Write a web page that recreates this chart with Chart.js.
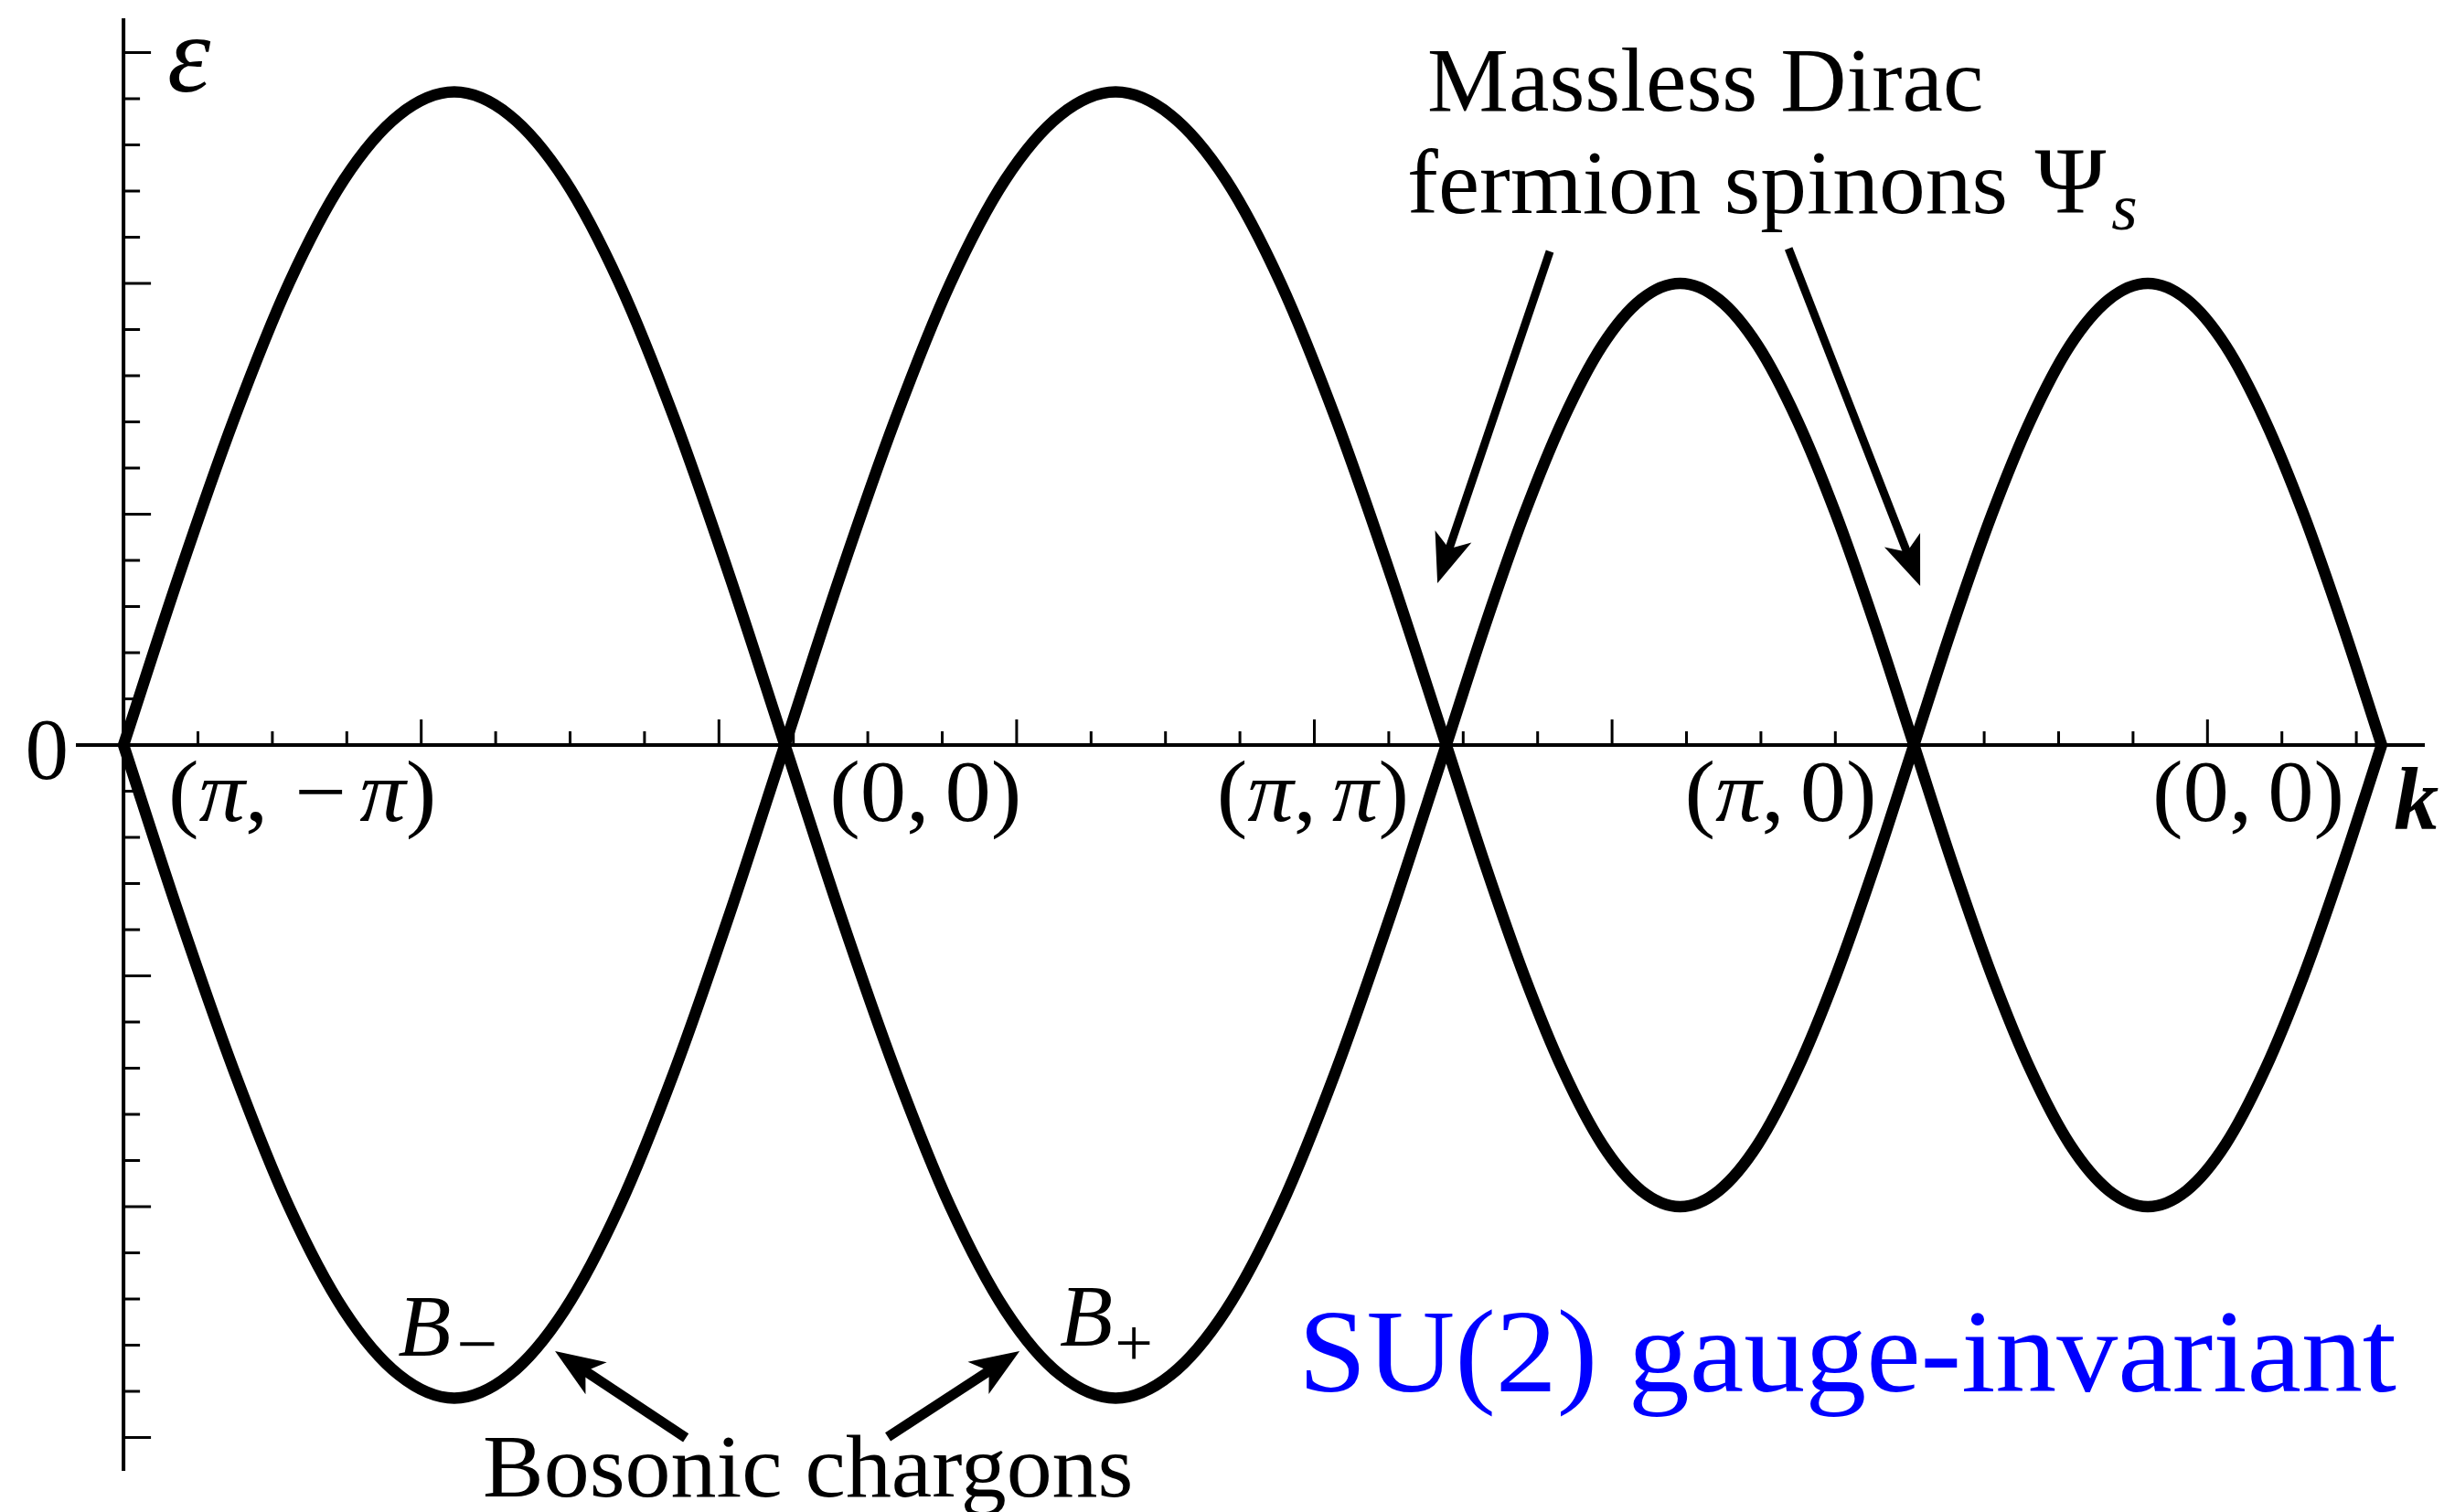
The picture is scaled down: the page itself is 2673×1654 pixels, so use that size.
<!DOCTYPE html>
<html>
<head>
<meta charset="utf-8">
<title>SU(2) gauge-invariant band structure</title>
<script src="https://cdn.jsdelivr.net/npm/chart.js@4.4.0/dist/chart.umd.min.js"></script>
<style>
    html, body { margin: 0; padding: 0; background: #fff; }
    #wrap { width: 2673px; height: 1654px; }
</style>
</head>
<body>
<div id="wrap"><canvas id="bands" width="2673" height="1654"></canvas></div>
<script>
// Path (π,−π) → (0,0) → (π,π) → (π,0) → (0,0); k = distance along the path
const kNodes = [0, 4.443, 8.886, 12.028, 15.170];
const kNodeLabels = ['(π, −π)', '(0, 0)', '(π, π)', '(π, 0)', '(0, 0)'];

// sample positions along each leg of the path
const kSegments = [
    [0, 0.370, 0.741, 1.111, 1.481, 1.851, 2.222, 2.592, 2.962, 3.332, 3.703, 4.073, 4.443],
    [4.443, 4.813, 5.184, 5.554, 5.924, 6.294, 6.665, 7.035, 7.405, 7.775, 8.146, 8.516, 8.886],
    [8.886, 9.148, 9.410, 9.671, 9.933, 10.195, 10.457, 10.719, 10.980, 11.242, 11.504, 11.766, 12.028],
    [12.028, 12.290, 12.552, 12.813, 13.075, 13.337, 13.599, 13.861, 14.122, 14.384, 14.646, 14.908, 15.170]
];

// energies of the two bands on each leg
const upperBand = [
    [0, 0.73, 1.41, 2.00, 2.45, 2.73, 2.83, 2.73, 2.45, 2.00, 1.41, 0.73, 0],
    [0, 0.73, 1.41, 2.00, 2.45, 2.73, 2.83, 2.73, 2.45, 2.00, 1.41, 0.73, 0],
    [0, 0.52, 1.00, 1.41, 1.73, 1.93, 2.00, 1.93, 1.73, 1.41, 1.00, 0.52, 0],
    [0, 0.52, 1.00, 1.41, 1.73, 1.93, 2.00, 1.93, 1.73, 1.41, 1.00, 0.52, 0]
];
const lowerBand = [
    [0, -0.73, -1.41, -2.00, -2.45, -2.73, -2.83, -2.73, -2.45, -2.00, -1.41, -0.73, 0],
    [0, -0.73, -1.41, -2.00, -2.45, -2.73, -2.83, -2.73, -2.45, -2.00, -1.41, -0.73, 0],
    [0, -0.52, -1.00, -1.41, -1.73, -1.93, -2.00, -1.93, -1.73, -1.41, -1.00, -0.52, 0],
    [0, -0.52, -1.00, -1.41, -1.73, -1.93, -2.00, -1.93, -1.73, -1.41, -1.00, -0.52, 0]
];

const FONT = '"Liberation Serif", "Times New Roman", serif';
const K_MIN = -0.32, K_MAX = 15.46;
const E_MIN = -3.145, E_MAX = 3.149;

/**
 * One dataset per band, with a gap at every node so each leg keeps its cusp
 */
function bandPoints(band) {
    const pts = [];
    kSegments.forEach((ks, s) => {
        ks.forEach((k, i) => pts.push({ x: k, y: band[s][i] }));
        pts.push({ x: ks[ks.length - 1], y: null });
    });
    return pts;
}

/**
 * Text helper: draws a sequence of runs (font / offset) from one anchor
 */
function drawRuns(ctx, runs, x, y, align, stretch) {
    let total = 0;
    runs.forEach(r => {
        ctx.font = r.font;
        r.w = (r.text ? ctx.measureText(r.text).width : 0) + (r.gap || 0);
        total += r.w;
    });
    const sx = stretch || 1;
    let left = x;
    if (align === 'right') left = x - total * sx;
    if (align === 'center') left = x - total * sx / 2;
    ctx.save();
    ctx.translate(left, y);
    ctx.scale(sx, 1);
    let cx = 0;
    runs.forEach(r => {
        ctx.font = r.font;
        if (r.text) ctx.fillText(r.text, cx, r.dy || 0);
        cx += r.w;
    });
    ctx.restore();
}

// math-mode label: letters italic, digits and punctuation upright
function mathRuns(label, size) {
    const runs = [];
    Array.from(label).forEach(ch => {
        const upright = `${size}px ${FONT}`;
        if (ch === ' ') {
            runs.push({ text: '', gap: size * 0.17, font: upright });
        } else if (ch === '−') {
            // the math minus sits a little wider than the text one
            runs.push({ text: '', gap: size * 0.12, font: upright });
            runs.push({ text: ch, gap: size * 0.14, font: upright });
        } else if (/[A-Za-zπ]/.test(ch)) {
            runs.push({ text: ch, font: `italic ${size}px ${FONT}` });
        } else {
            runs.push({ text: ch, font: upright });
        }
    });
    return runs;
}

function drawArrow(ctx, x0, y0, x1, y1, width) {
    const dx = x1 - x0, dy = y1 - y0;
    const len = Math.hypot(dx, dy);
    const ux = dx / len, uy = dy / len;
    const nx = -uy, ny = ux;
    const L = 54, W = 21;
    ctx.save();
    ctx.strokeStyle = '#000';
    ctx.fillStyle = '#000';
    ctx.lineWidth = width;
    ctx.lineCap = 'butt';
    ctx.beginPath();
    ctx.moveTo(x0, y0);
    ctx.lineTo(x1 - ux * L * 0.6, y1 - uy * L * 0.6);
    ctx.stroke();
    ctx.beginPath();
    ctx.moveTo(x1, y1);
    ctx.lineTo(x1 - ux * L + nx * W, y1 - uy * L + ny * W);
    ctx.lineTo(x1 - ux * L * 0.74, y1 - uy * L * 0.74);
    ctx.lineTo(x1 - ux * L - nx * W, y1 - uy * L - ny * W);
    ctx.closePath();
    ctx.fill();
    ctx.restore();
}

/**
 * Axes through the origin with inward ticks, plus the annotations
 */
const originAxes = {
    id: 'originAxes',
    beforeDatasetsDraw(chart) {
        const { ctx, chartArea, scales } = chart;
        const xs = scales.x, ys = scales.y;
        const x0 = xs.getPixelForValue(0), y0 = ys.getPixelForValue(0);
        ctx.save();
        ctx.strokeStyle = '#000';
        ctx.lineCap = 'butt';

        ctx.lineWidth = 4;
        ctx.beginPath();
        ctx.moveTo(chartArea.left, y0);
        ctx.lineTo(chartArea.right, y0);
        ctx.moveTo(x0, chartArea.top);
        ctx.lineTo(x0, chartArea.bottom);
        ctx.stroke();

        ctx.lineWidth = 3;
        ctx.beginPath();
        // k ticks every 0.5, long ones every 2
        for (let i = 1; i <= 30; i++) {
            const px = xs.getPixelForValue(i * 0.5);
            ctx.moveTo(px, y0);
            ctx.lineTo(px, y0 - (i % 4 === 0 ? 28 : 15));
        }
        // energy ticks every 0.2, long ones every 1
        for (let i = -15; i <= 15; i++) {
            if (i === 0) continue;
            const py = ys.getPixelForValue(i / 5);
            ctx.moveTo(x0, py);
            ctx.lineTo(x0 + (i % 5 === 0 ? 30 : 18), py);
        }
        ctx.stroke();
        ctx.restore();
    },
    afterDatasetsDraw(chart) {
        const { ctx, scales } = chart;
        const X = k => scales.x.getPixelForValue(k);
        const Y = e => scales.y.getPixelForValue(e);
        ctx.save();
        ctx.fillStyle = '#000';
        ctx.textBaseline = 'alphabetic';

        // axis names
        drawRuns(ctx, [{ text: 'ε', font: `italic 120px ${FONT}` }], X(0.295), Y(2.832), 'left');
        drawRuns(ctx, [{ text: '0', font: `95px ${FONT}` }], X(-0.369), Y(-0.147), 'right');
        drawRuns(ctx, [{ text: 'k', font: `bold italic 98px ${FONT}` }], X(15.252), Y(-0.364), 'left');

        // high-symmetry points under the axis
        const anchors = [
            [kNodes[0] + 0.30, 'left'],
            [kNodes[1] + 0.30, 'left'],
            [kNodes[2] - 0.25, 'right'],
            [kNodes[3] - 0.25, 'right'],
            [kNodes[4] - 0.25, 'right']
        ];
        kNodeLabels.forEach((lab, i) => {
            drawRuns(ctx, mathRuns(lab, 95), X(anchors[i][0]), Y(-0.329), anchors[i][1], 1.06);
        });

        // spinon annotation
        drawRuns(ctx, [{ text: 'Massless Dirac', font: `100px ${FONT}` }], X(10.627), Y(2.749), 'center');
        drawRuns(ctx, [
            { text: 'fermion spinons ', font: `100px ${FONT}`, gap: 4 },
            { text: 'Ψ', font: `104px ${FONT}`, gap: 6 },
            { text: 's', font: `italic 72px ${FONT}`, dy: 18 }
        ], X(8.624), Y(2.305), 'left', 1.015);
        drawArrow(ctx, X(9.582), Y(2.139), X(8.827), Y(0.701), 9);
        drawArrow(ctx, X(11.186), Y(2.151), X(12.070), Y(0.689), 9);

        // chargon annotation
        drawRuns(ctx, [
            { text: 'B', font: `italic 95px ${FONT}`, gap: 6 },
            { text: '−', font: `80px ${FONT}`, dy: 14 }
        ], X(1.843), Y(-2.646), 'left');
        drawRuns(ctx, [
            { text: 'B', font: `italic 95px ${FONT}`, gap: 2 },
            { text: '+', font: `74px ${FONT}`, dy: 22 }
        ], X(6.290), Y(-2.602), 'left');
        drawRuns(ctx, [{ text: 'Bosonic chargons', font: `97px ${FONT}` }], X(2.414), Y(-3.255), 'left', 1.03);
        drawArrow(ctx, X(3.778), Y(-3.002), X(2.899), Y(-2.626), 11);
        drawArrow(ctx, X(5.135), Y(-2.998), X(6.020), Y(-2.626), 11);

        ctx.fillStyle = '#0000ff';
        drawRuns(ctx, [{ text: 'SU(2) gauge-invariant', font: `130px ${FONT}` }], X(7.893), Y(-2.800), 'left', 1.03);
        ctx.restore();
    }
};

new Chart(document.getElementById('bands'), {
    type: 'line',
    data: {
        datasets: [
            { label: 'upper', data: bandPoints(upperBand) },
            { label: 'lower', data: bandPoints(lowerBand) }
        ]
    },
    options: {
        responsive: false,
        devicePixelRatio: 1,
        animation: false,
        spanGaps: false,
        layout: { padding: { left: 83, right: 21, top: 20, bottom: 45 } },
        elements: {
            point: { radius: 0 },
            line: {
                borderColor: '#000',
                borderWidth: 12.5,
                borderCapStyle: 'butt',
                borderJoinStyle: 'miter',
                cubicInterpolationMode: 'monotone',
                fill: false
            }
        },
        scales: {
            x: { type: 'linear', min: K_MIN, max: K_MAX, display: false },
            y: { type: 'linear', min: E_MIN, max: E_MAX, display: false }
        },
        plugins: {
            legend: { display: false },
            tooltip: { enabled: false }
        }
    },
    plugins: [originAxes]
});
</script>
</body>
</html>
